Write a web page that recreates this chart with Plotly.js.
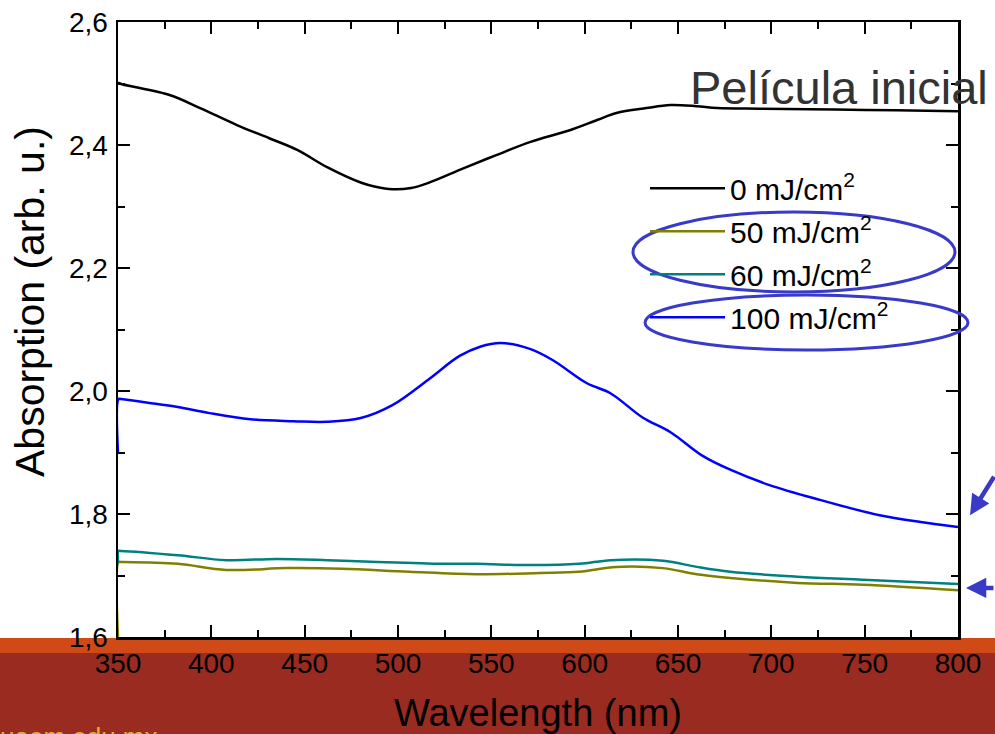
<!DOCTYPE html>
<html>
<head>
<meta charset="utf-8">
<script src="https://cdn.plot.ly/plotly-3.0.1.min.js"></script>
<style>html,body{margin:0;padding:0;background:#fff;}#chart{width:995px;height:734px;}</style>
</head>
<body>
<div id="chart"></div>
<script>
// ---- data ----
const seriesNames = ["0 mJ/cm<sup>2</sup>", "50 mJ/cm<sup>2</sup>", "60 mJ/cm<sup>2</sup>", "100 mJ/cm<sup>2</sup>"];

const wl0  = [350, 351, 378, 394, 414, 431, 446, 462, 480, 488, 497, 507, 516, 535, 553, 571, 592, 607, 617, 633, 646, 660, 671, 694, 720, 750, 775, 800];
const abs0 = [2.502, 2.500, 2.481, 2.460, 2.432, 2.411, 2.392, 2.364, 2.339, 2.332, 2.328, 2.330, 2.338, 2.362, 2.384, 2.405, 2.424, 2.441, 2.452, 2.460, 2.465, 2.463, 2.460, 2.459, 2.458, 2.457, 2.456, 2.455];

const wl50  = [350, 350.3, 351.5, 382, 408, 441, 470, 506, 542, 576, 597, 617, 642, 660, 678, 714, 749, 800];
const abs50 = [1.60, 1.722, 1.722, 1.719, 1.709, 1.712, 1.711, 1.706, 1.702, 1.704, 1.706, 1.714, 1.712, 1.702, 1.696, 1.688, 1.685, 1.676];

const wl60  = [350, 350.3, 351.5, 382, 408, 435, 462, 489, 524, 542, 571, 597, 614, 642, 660, 678, 714, 749, 800];
const abs60 = [1.72, 1.740, 1.740, 1.733, 1.725, 1.727, 1.725, 1.722, 1.719, 1.719, 1.717, 1.719, 1.725, 1.724, 1.714, 1.706, 1.698, 1.693, 1.686];

const wl100  = [350, 350.3, 351.5, 366, 382, 399, 421, 444, 462, 480, 497, 516, 533, 544, 555, 571, 583, 601, 614, 631, 646, 663, 678, 699, 726, 758, 780, 800];
const abs100 = [1.90, 1.987, 1.987, 1.981, 1.974, 1.964, 1.954, 1.951, 1.950, 1.956, 1.977, 2.018, 2.057, 2.072, 2.078, 2.068, 2.050, 2.013, 1.996, 1.957, 1.933, 1.895, 1.872, 1.847, 1.823, 1.798, 1.787, 1.779];

const xTickVals = [350, 400, 450, 500, 550, 600, 650, 700, 750, 800];
const yTickVals = [1.6, 1.8, 2.0, 2.2, 2.4, 2.6];

// ---- styling ----
const colors = ["#000000", "#808000", "#008080", "#0000FF"];
const FONT = "Liberation Sans, Arial, sans-serif";

const xs = [wl0, wl50, wl60, wl100];
const ys = [abs0, abs50, abs60, abs100];

const traces = xs.map((x, i) => ({
  x: x, y: ys[i], type: "scatter", mode: "lines",
  name: seriesNames[i], legendgroup: "g" + i,
  line: {color: colors[i], width: 2.5, shape: "spline", smoothing: 1}
}));

const ellipseColor = "#3A3AC8";

const layout = {
  width: 995, height: 734,
  margin: {l: 118, r: 37, t: 22, b: 97, pad: 0},
  paper_bgcolor: "#ffffff", plot_bgcolor: "#ffffff",
  separators: ",.",
  font: {family: FONT, color: "#000"},
  showlegend: true,
  legend: {
    x: 0.6274, y: 0.772, xanchor: "left", yanchor: "top",
    bgcolor: "rgba(0,0,0,0)", borderwidth: 0,
    font: {family: FONT, size: 30, color: "#000"},
    traceorder: "grouped", tracegroupgap: 1, itemwidth: 75
  },
  xaxis: {
    range: [350, 800], tickvals: xTickVals, ticktext: xTickVals.map(String),
    ticks: "inside", ticklen: 12, tickwidth: 2, tickcolor: "#000",
    showline: true, linewidth: 2.5, linecolor: "#000", mirror: "allticks",
    showgrid: false, zeroline: false,
    minor: {dtick: 25, tick0: 375, ticks: "inside", ticklen: 7, tickwidth: 2, tickcolor: "#000", showgrid: false},
    tickfont: {family: FONT, size: 28, color: "#000"},
    title: {text: "Wavelength (nm)", font: {family: FONT, size: 38, color: "#000"}, standoff: 22}
  },
  yaxis: {
    range: [1.6, 2.6], tickvals: yTickVals, tickformat: ".1f",
    ticks: "inside", ticklen: 12, tickwidth: 2, tickcolor: "#000",
    showline: true, linewidth: 2.5, linecolor: "#000", mirror: "allticks",
    showgrid: false, zeroline: false, ticklabelstandoff: 2,
    minor: {dtick: 0.1, tick0: 1.7, ticks: "inside", ticklen: 7, tickwidth: 2, tickcolor: "#000", showgrid: false},
    tickfont: {family: FONT, size: 28, color: "#000"}
  },
  shapes: [
    {type: "rect", xref: "paper", yref: "paper", x0: -0.2, x1: 1.1, y0: -0.026, y1: -0.0016,
     fillcolor: "#D04A18", line: {width: 0}, layer: "below"},
    {type: "rect", xref: "paper", yref: "paper", x0: -0.2, x1: 1.1, y0: -0.2, y1: -0.026,
     fillcolor: "#992B20", line: {width: 0}, layer: "below"},
    {type: "circle", xref: "paper", yref: "paper", x0: 0.6131, x1: 0.9964, y0: 0.561, y1: 0.6911,
     line: {color: ellipseColor, width: 3}},
    {type: "circle", xref: "paper", yref: "paper", x0: 0.6274, x1: 1.0119, y0: 0.4667, y1: 0.5561,
     line: {color: ellipseColor, width: 3}}
  ],
  annotations: [
    {text: "Absorption (arb. u.)", xref: "paper", yref: "paper", x: -0.105, y: 0.546,
     xanchor: "center", yanchor: "middle", textangle: -90, showarrow: false,
     font: {family: FONT, size: 41, color: "#000"}},
    {text: "Película inicial", xref: "paper", yref: "paper", x: 0.679, y: 0.893,
     xanchor: "left", yanchor: "middle", showarrow: false,
     font: {family: FONT, size: 47, color: "#333333"}},
    {text: "", xref: "paper", yref: "paper", x: 1.0143, y: 0.198, ax: 32, ay: -40,
     showarrow: true, arrowhead: 2, arrowsize: 0.9, arrowwidth: 4.5, arrowcolor: ellipseColor},
    {text: "", xref: "paper", yref: "paper", x: 1.0095, y: 0.0797, ax: 45, ay: 0,
     showarrow: true, arrowhead: 2, arrowsize: 0.9, arrowwidth: 4.5, arrowcolor: ellipseColor},
    {text: "uaem.edu.mx", xref: "paper", yref: "paper", x: 0.05, y: -0.1345,
     xanchor: "right", yanchor: "top", showarrow: false,
     font: {family: FONT, size: 26, color: "#E8B418"}}
  ]
};

Plotly.newPlot("chart", traces, layout, {displayModeBar: false, staticPlot: true});
</script>
</body>
</html>
